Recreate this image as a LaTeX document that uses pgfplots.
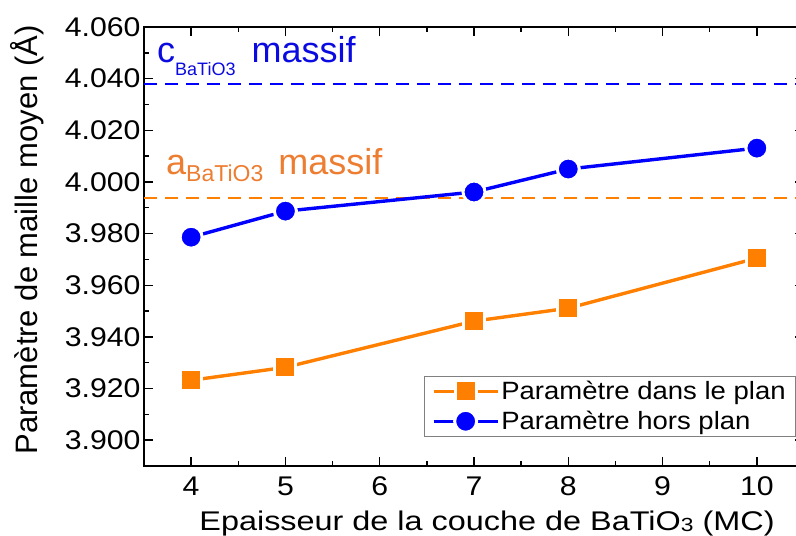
\documentclass[border=0pt]{standalone}
\usepackage{fontspec}
\setmainfont{Liberation Sans}
\newfontfamily\tickfont{Liberation Sans}[FakeStretch=1.12]
\newfontfamily\xlabfont{Liberation Sans}[FakeStretch=1.2]
\newfontfamily\legfont{Liberation Sans}[FakeStretch=1.1]
\usepackage{pgfplots}
\pgfplotsset{compat=1.18}
\definecolor{myorange}{RGB}{255,128,0}
\definecolor{txtorange}{RGB}{237,125,49}
\definecolor{myblue}{RGB}{0,0,255}
\definecolor{txtblue}{RGB}{10,10,225}

\begin{document}
\begin{tikzpicture}
\begin{axis}[
  scale only axis, width=660pt, height=439pt,
  xmin=3.5, xmax=10.5, ymin=3.890, ymax=4.060,
  xtick={4,5,6,7,8,9,10},
  ytick={3.900,3.920,3.940,3.960,3.980,4.000,4.020,4.040,4.060},
  minor x tick num=1, minor y tick num=1,
  tick align=inside,
  major tick length=9pt, minor tick length=5.5pt,
  axis line style={line width=1.6pt},
  every tick/.style={black, line width=1.4pt},
  /pgf/number format/assume math mode=true,
  y tick label style={/pgf/number format/.cd, fixed, fixed zerofill, precision=3, /tikz/.cd},
  tick label style={font=\fontsize{27}{30}\tickfont},
  x tick label style={yshift=-7pt},
  xlabel={Epaisseur de la couche de BaTiO\raisebox{-1pt}{\fontsize{19}{20}\xlabfont 3} (MC)},
  xlabel style={font=\fontsize{27}{32}\xlabfont, at={(axis description cs:0.5197,-0.146)}, anchor=base},
  ylabel={Paramètre de maille moyen (Å)},
  ylabel style={font=\fontsize{31}{36}\selectfont, at={(axis description cs:-0.1621,0.5148)}, anchor=base, rotate=0},
  legend style={at={(0.988,0.205)}, anchor=north east, draw=gray, line width=0.8pt,
    font=\fontsize{25}{28}\legfont, inner xsep=8pt, inner ysep=3pt, row sep=6pt},
  legend cell align=left,
  legend image code/.code={\draw[mark repeat=2,mark phase=2] plot coordinates {(0pt,0pt) (32pt,0pt) (64pt,0pt)};},
]
\addplot[forget plot, myblue, line width=2.4pt, dash pattern=on 13pt off 8pt] coordinates {(3.5,4.038) (10.5,4.038)};
\addplot[forget plot, myorange, line width=2.4pt, dash pattern=on 13pt off 8pt] coordinates {(3.5,3.9938) (10.5,3.9938)};

\addplot[myorange, line width=3.4pt, mark=square*, mark size=10.5pt,
  mark options={fill=myorange, draw=white, line width=3pt}]
  coordinates {(4,3.9232) (5,3.9282) (7,3.9461) (8,3.9511) (10,3.9705)};
\addlegendentry{Paramètre dans le plan}
\addplot[myblue, line width=3.4pt, mark=*, mark size=11pt,
  mark options={fill=myblue, draw=white, line width=3pt}]
  coordinates {(4,3.9786) (5,3.9887) (7,3.9961) (8,4.0050) (10,4.0131)};
\addlegendentry{Paramètre hors plan}

\node[anchor=base west, inner sep=0pt, text=txtblue, font=\fontsize{36}{40}\selectfont]
  at (axis cs:3.638,4.0464) {c\raisebox{-13pt}{\fontsize{18}{20}\selectfont BaTiO3}\hspace{16pt}massif};
\node[anchor=base west, inner sep=0pt, text=txtorange, font=\fontsize{36}{40}\selectfont]
  at (axis cs:3.733,4.0027) {a\raisebox{-7pt}{\fontsize{23}{25}\selectfont BaTiO3}\hspace{15pt}massif};
\end{axis}
\pgfresetboundingbox
\path[use as bounding box] ([shift={(-144pt,-70pt)}]current axis.south west) rectangle ([shift={(652pt,27pt)}]current axis.north west);
\end{tikzpicture}
\end{document}
